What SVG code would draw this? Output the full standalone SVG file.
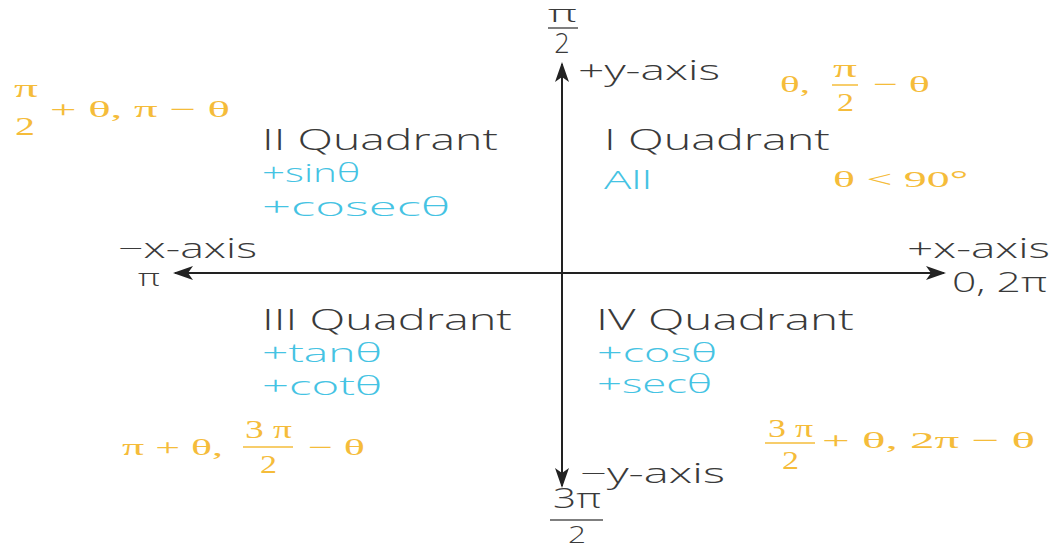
<svg xmlns="http://www.w3.org/2000/svg" width="1055" height="549" viewBox="0 0 1055 549">
<style>
.d{font-family:"Open Sans","DejaVu Sans",sans-serif;font-size:27px;fill:#3a3a3a;font-weight:300}
.q{font-size:29px}
.s{font-size:23px}
.c{font-family:"Open Sans","DejaVu Sans",sans-serif;font-size:25px;fill:#45c3e3;font-weight:300}
.o{font-family:"Liberation Serif","Times New Roman",serif;font-size:23px;fill:#f5bc3a}
.f{font-size:25px}
.ax{stroke:#222;stroke-width:2;fill:none}
.fl{stroke-width:1.5}
.fo{stroke:#f5bc3a}
.fd{stroke:#555}
</style>
<defs>
<marker id="ah" markerWidth="20" markerHeight="14" refX="18" refY="7" orient="auto" markerUnits="userSpaceOnUse">
<path d="M0,0 L20,7 L0,14 L5,7 Z" fill="#222"/>
</marker>
</defs>
<rect width="1055" height="549" fill="#fff"/>
<g id="connectors">
<line class="ax" x1="562" y1="273" x2="562" y2="64" marker-end="url(#ah)"/>
<line class="ax" x1="562" y1="273" x2="562" y2="486" marker-end="url(#ah)"/>
<line class="ax" x1="562" y1="273" x2="175" y2="273" marker-end="url(#ah)"/>
<line class="ax" x1="562" y1="273" x2="944" y2="273" marker-end="url(#ah)"/>
</g>
<g id="pos-y">
<text class="d s" x="548" y="22" textLength="29" lengthAdjust="spacingAndGlyphs">π</text>
<line class="fl fd" x1="548" y1="28" x2="578" y2="28"/>
<text class="d" x="562" y="53" text-anchor="middle">2</text>
<text class="d" x="578" y="80" textLength="142" lengthAdjust="spacingAndGlyphs">+y-axis</text>
</g>
<g id="neg-y">
<text class="d" x="580" y="483" textLength="145" lengthAdjust="spacingAndGlyphs">−y-axis</text>
<text class="d" x="553" y="508" textLength="48" lengthAdjust="spacingAndGlyphs">3π</text>
<line class="fl fd" x1="550" y1="520" x2="603" y2="520"/>
<text class="d s" x="577" y="543" text-anchor="middle" textLength="18" lengthAdjust="spacingAndGlyphs">2</text>
</g>
<g id="neg-x">
<text class="d" x="118" y="258" textLength="139" lengthAdjust="spacingAndGlyphs">−x-axis</text>
<text class="d s" x="138" y="286" textLength="22" lengthAdjust="spacingAndGlyphs">π</text>
</g>
<g id="pos-x">
<text class="d" x="907" y="258" textLength="143" lengthAdjust="spacingAndGlyphs">+x-axis</text>
<text class="d" x="952" y="292" textLength="95" lengthAdjust="spacingAndGlyphs">0, 2π</text>
</g>
<g id="quadrant-1">
<text class="d q" x="604" y="150" textLength="226" lengthAdjust="spacingAndGlyphs">I Quadrant</text>
<text class="c" x="604" y="189" textLength="48" lengthAdjust="spacingAndGlyphs">All</text>
<text class="o" x="780" y="92" textLength="30" lengthAdjust="spacingAndGlyphs">θ,</text>
<text class="o f" x="833" y="77" textLength="24" lengthAdjust="spacingAndGlyphs">π</text>
<line class="fl fo" x1="832" y1="85" x2="858" y2="85"/>
<text class="o f" x="837" y="111" textLength="17" lengthAdjust="spacingAndGlyphs">2</text>
<text class="o" x="873" y="92" textLength="57" lengthAdjust="spacingAndGlyphs">− θ</text>
<text class="o" x="833" y="187" textLength="135" lengthAdjust="spacingAndGlyphs">θ &lt; 90°</text>
</g>
<g id="quadrant-2">
<text class="d q" x="262" y="150" textLength="236" lengthAdjust="spacingAndGlyphs">II Quadrant</text>
<text class="c" x="262" y="182" textLength="98" lengthAdjust="spacingAndGlyphs">+sinθ</text>
<text class="c" x="262" y="216" textLength="188" lengthAdjust="spacingAndGlyphs">+cosecθ</text>
<text class="o f" x="14" y="97" textLength="24" lengthAdjust="spacingAndGlyphs">π</text>
<text class="o f" x="15" y="135" textLength="20" lengthAdjust="spacingAndGlyphs">2</text>
<text class="o" x="50" y="117" textLength="180" lengthAdjust="spacingAndGlyphs">+ θ, π − θ</text>
</g>
<g id="quadrant-3">
<text class="d q" x="262" y="330" textLength="250" lengthAdjust="spacingAndGlyphs">III Quadrant</text>
<text class="c" x="262" y="362" textLength="120" lengthAdjust="spacingAndGlyphs">+tanθ</text>
<text class="c" x="262" y="395" textLength="120" lengthAdjust="spacingAndGlyphs">+cotθ</text>
<text class="o" x="122" y="455" textLength="101" lengthAdjust="spacingAndGlyphs">π + θ,</text>
<text class="o f" x="245" y="438" textLength="47" lengthAdjust="spacingAndGlyphs">3 π</text>
<line class="fl fo" x1="243" y1="447" x2="293" y2="447"/>
<text class="o f" x="260" y="473" textLength="17" lengthAdjust="spacingAndGlyphs">2</text>
<text class="o" x="308" y="455" textLength="57" lengthAdjust="spacingAndGlyphs">− θ</text>
</g>
<g id="quadrant-4">
<text class="d q" x="596" y="330" textLength="258" lengthAdjust="spacingAndGlyphs">IV Quadrant</text>
<text class="c" x="597" y="362" textLength="120" lengthAdjust="spacingAndGlyphs">+cosθ</text>
<text class="c" x="597" y="393" textLength="115" lengthAdjust="spacingAndGlyphs">+secθ</text>
<text class="o f" x="768" y="437" textLength="45" lengthAdjust="spacingAndGlyphs">3 π</text>
<line class="fl fo" x1="765" y1="443" x2="815" y2="443"/>
<text class="o f" x="782" y="469" textLength="17" lengthAdjust="spacingAndGlyphs">2</text>
<text class="o" x="822" y="448" textLength="213" lengthAdjust="spacingAndGlyphs">+ θ, 2π − θ</text>
</g>
</svg>
